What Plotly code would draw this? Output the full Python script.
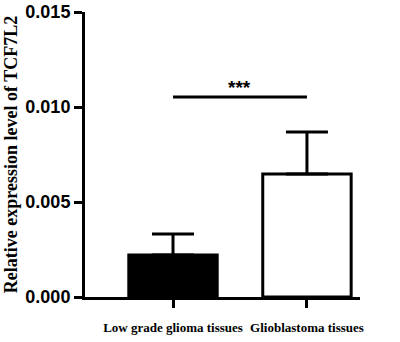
import plotly.graph_objects as go

categories = ["Low grade glioma tissues", "Glioblastoma tissues"]
means = [0.00221, 0.00647]
sd_upper = [0.00111, 0.00221]
bar_colors = ["black", "white"]
sig_y = 0.01053
sig_label = "***"
y_ticks = [0.000, 0.005, 0.010, 0.015]

fig = go.Figure()
fig.add_trace(go.Bar(
    x=[0, 1], y=means,
    width=0.66,
    marker=dict(color=bar_colors, line=dict(color="black", width=3)),
    error_y=dict(type="data", symmetric=False, array=sd_upper,
                 arrayminus=[0, 0], color="black", thickness=3, width=21),
    showlegend=False,
))
# significance line
fig.add_trace(go.Scatter(
    x=[0, 1], y=[sig_y, sig_y], mode="lines",
    line=dict(color="black", width=3), showlegend=False, hoverinfo="skip",
))
fig.add_annotation(x=0.5, y=sig_y, text="<b>" + sig_label + "</b>", showarrow=False,
                   yshift=9, font=dict(family="Liberation Sans", size=19, color="black"))

fig.update_layout(
    width=400, height=342,
    margin=dict(l=85, r=40, t=12, b=45),
    paper_bgcolor="white", plot_bgcolor="white",
    xaxis=dict(
        range=[-0.657, 1.396], tickvals=[0, 1],
        ticktext=["<b>" + c + "</b>" for c in categories],
        showline=True, linecolor="black", linewidth=3,
        ticks="outside", ticklen=8, tickwidth=3, tickcolor="black",
        tickfont=dict(family="Liberation Serif", size=13, color="black"),
        tickangle=0, ticklabeloverflow="allow",
        ticklabelstandoff=8, showgrid=False, zeroline=False, automargin=False,
    ),
    yaxis=dict(
        range=[0, 0.015], tickvals=y_ticks,
        ticktext=["<b>%.3f</b>" % v for v in y_ticks],
        showline=True, linecolor="black", linewidth=3,
        ticks="outside", ticklen=8, tickwidth=3, tickcolor="black",
        tickfont=dict(family="Liberation Sans", size=18, color="black"),
        ticklabeloverflow="allow",
        showgrid=False, zeroline=False, automargin=False,
        title=dict(text="<b>Relative expression level of TCF7L2</b>",
                   font=dict(family="Liberation Serif", size=18, color="black"),
                   standoff=4),
    ),
)
fig.write_html("out.html", config={"displayModeBar": False},
               post_script="document.body.style.margin='0';")
